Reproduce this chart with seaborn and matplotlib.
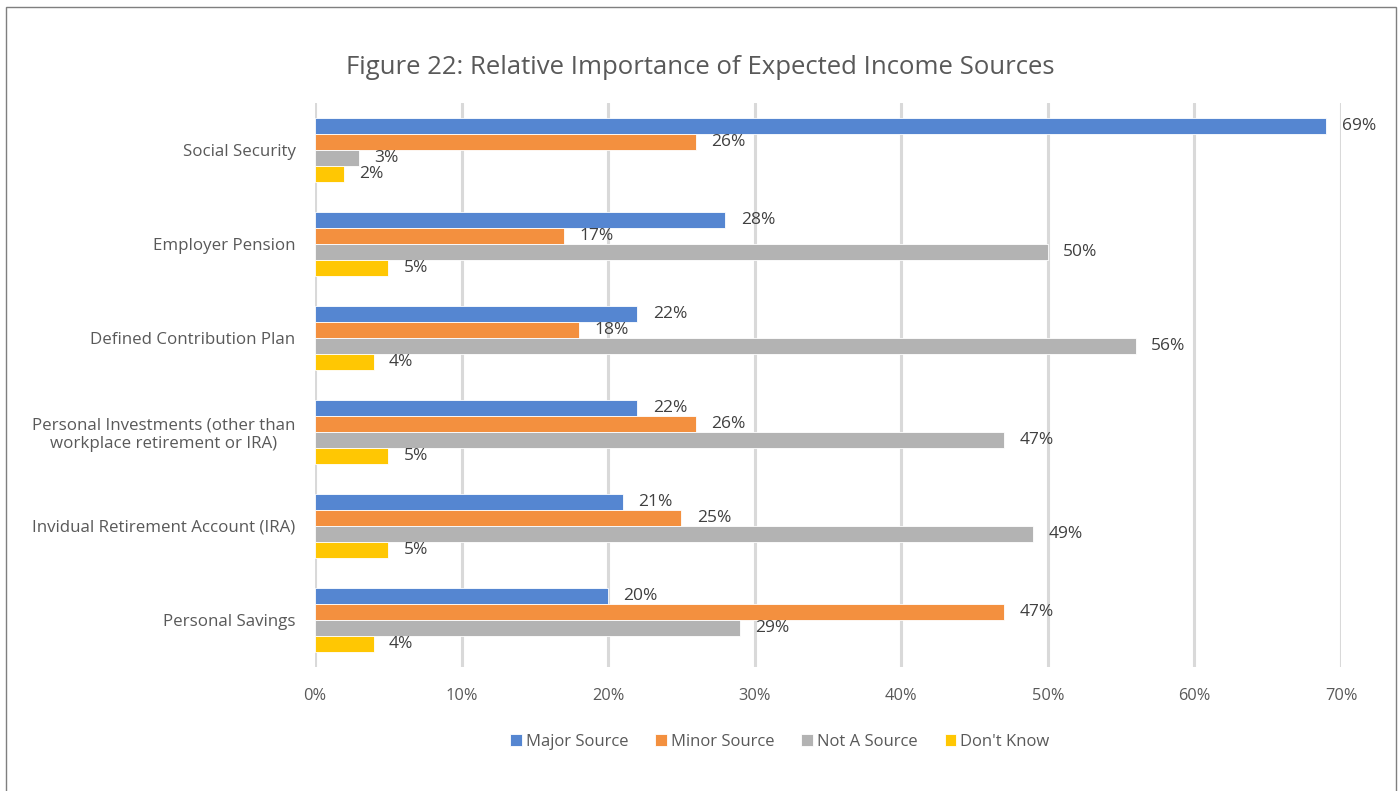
import numpy as np
import pandas as pd
import matplotlib.pyplot as plt
import seaborn as sns
from matplotlib.patches import Rectangle
from matplotlib.ticker import FuncFormatter

# =============================================================================
# Data
# =============================================================================
categories = ['Social Security', 'Employer Pension', 'Defined Contribution Plan',
              'Personal Investments (other than\nworkplace retirement or IRA)',
              'Invidual Retirement Account (IRA)', 'Personal Savings']
series = ['Major Source', 'Minor Source', 'Not A Source', "Don't Know"]
major_source = [69, 28, 22, 22, 21, 20]
minor_source = [26, 17, 18, 26, 25, 47]
not_a_source = [3, 50, 56, 47, 49, 29]
dont_know = [2, 5, 4, 5, 5, 4]
xticks = [0, 10, 20, 30, 40, 50, 60, 70]

colors = ['#5586D1', '#F3903F', '#B3B3B3', '#FFC703']

df = pd.DataFrame({
    'category': categories * 4,
    'series': np.repeat(series, len(categories)),
    'value': major_source + minor_source + not_a_source + dont_know,
})

# =============================================================================
# Plot
# =============================================================================
sns.set_style('white')
plt.rcParams['font.family'] = ['Open Sans', 'DejaVu Sans']

fig = plt.figure(figsize=(14, 7.91), dpi=100)
ax = fig.add_axes([315 / 1400, 1 - 667 / 791, (1341 - 315) / 1400, (667 - 103) / 791])

sns.barplot(data=df, y='category', x='value', hue='series', hue_order=series,
            order=categories, palette=colors, orient='h', width=0.69,
            saturation=1, edgecolor='white', linewidth=0.6, ax=ax)

for container in ax.containers:
    ax.bar_label(container, labels=[f'{v:.0f}%' for v in container.datavalues],
                 padding=11, fontsize=12.5, color='#404040')

ax.set_xlim(0, 70)
ax.set_xticks(xticks)
ax.xaxis.set_major_formatter(FuncFormatter(lambda v, p: f'{v:.0f}%'))
ax.grid(axis='x', color='#D9D9D9', linewidth=2.2)
ax.set_axisbelow(True)
for s in ax.spines.values():
    s.set_visible(False)
ax.set_xlabel('')
ax.set_ylabel('')
ax.tick_params(axis='both', length=0, labelcolor='#595959')
ax.tick_params(axis='x', pad=15, labelsize=11.8)
ax.tick_params(axis='y', pad=14, labelsize=12.2)
for lbl in ax.get_yticklabels():
    lbl.set_horizontalalignment('right')
    lbl.set_multialignment('center')

ax.legend(loc='center', bbox_to_anchor=(780 / 1400, 1 - 742 / 791),
          bbox_transform=fig.transFigure, ncol=4, frameon=False,
          fontsize=12, labelcolor='#595959', handlelength=0.7,
          handleheight=0.7, handletextpad=0.25, columnspacing=1.6)

fig.text(0.5, 1 - 68 / 791, 'Figure 22: Relative Importance of Expected Income Sources',
         ha='center', va='center', fontsize=18.5, color='#595959', fontweight='medium')

fig.patches.append(Rectangle((6 / 1400, -0.05), 1390 / 1400, 1.05 - 7 / 791,
                             transform=fig.transFigure, fill=False,
                             edgecolor='#7F7F7F', linewidth=1))

fig.savefig('out.png', dpi=100)
